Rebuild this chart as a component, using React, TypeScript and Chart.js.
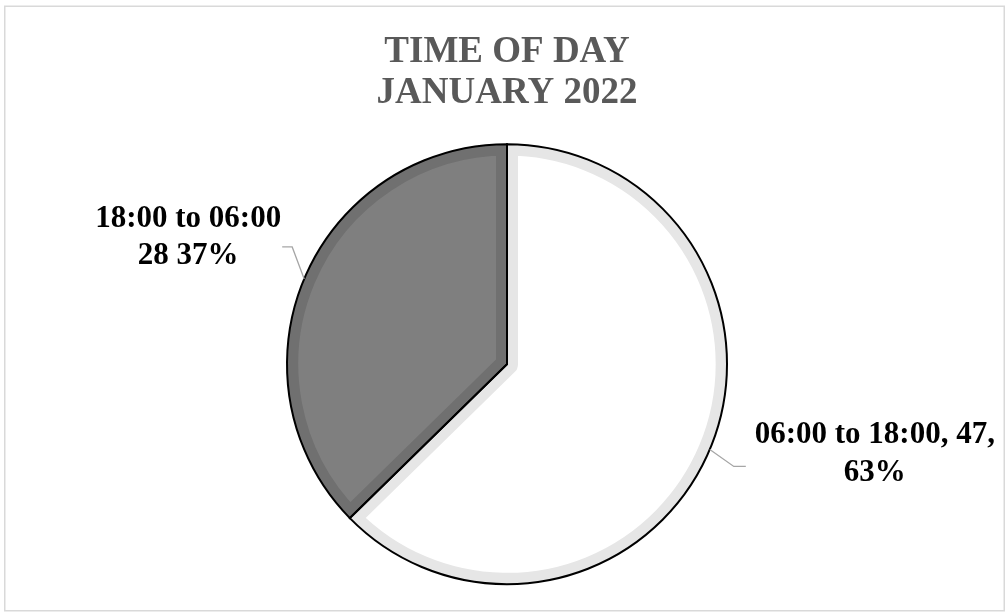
import React, { useEffect, useRef } from "react";
import { Chart, registerables } from "chart.js";

Chart.register(...registerables);

const categories = ["06:00 to 18:00", "18:00 to 06:00"];
const values = [47, 28];
const percents = ["63%", "37%"];
const titleLines = ["TIME OF DAY", "JANUARY 2022"];
const sliceColors = ["#ffffff", "#7f7f7f"];
const bandColors = ["#e6e6e6", "#707070"];

const labelLines = [
  [`${categories[0]}, ${values[0]},`, percents[0]],
  [categories[1], `${values[1]} ${percents[1]}`],
];

// leader/label layout per slice (offsets from slice mid-point on the rim)
const leaderLayout = [
  { knee: [24, 17], end: [12, 0], text: [129, -23], lh: 38 },
  { knee: [-12, -32], end: [-10, 0], text: [-94, -20], lh: 37 },
];

const SERIF = '"Liberation Serif", "Times New Roman", serif';

const decorPlugin = {
  id: "decor",
  beforeDraw(chart: any) {
    const ctx = chart.ctx;
    ctx.save();
    ctx.strokeStyle = "#d9d9d9";
    ctx.lineWidth = 1.5;
    ctx.strokeRect(4.75, 6.25, 999.5, 604.5);
    ctx.restore();
  },
  afterDatasetsDraw(chart: any) {
    const ctx = chart.ctx;
    const meta = chart.getDatasetMeta(0);
    ctx.save();
    // black outlines
    meta.data.forEach((arc: any) => {
      const { x, y, startAngle, endAngle, outerRadius } = arc.getProps(
        ["x", "y", "startAngle", "endAngle", "outerRadius"],
        true
      );
      ctx.beginPath();
      ctx.moveTo(x, y);
      ctx.arc(x, y, outerRadius, startAngle, endAngle);
      ctx.closePath();
      ctx.strokeStyle = "#000000";
      ctx.lineWidth = 2;
      ctx.lineJoin = "miter";
      ctx.stroke();
    });
    // leader lines and labels
    meta.data.forEach((arc: any, i: number) => {
      const { x, y, startAngle, endAngle, outerRadius } = arc.getProps(
        ["x", "y", "startAngle", "endAngle", "outerRadius"],
        true
      );
      const mid = (startAngle + endAngle) / 2;
      const px = x + outerRadius * Math.cos(mid);
      const py = y + outerRadius * Math.sin(mid);
      const L = leaderLayout[i];
      const kx = px + L.knee[0];
      const ky = py + L.knee[1];
      const ex = kx + L.end[0];
      const ey = ky + L.end[1];
      ctx.beginPath();
      ctx.moveTo(px, py);
      ctx.lineTo(kx, ky);
      ctx.lineTo(ex, ey);
      ctx.strokeStyle = "#a6a6a6";
      ctx.lineWidth = 1.3;
      ctx.stroke();
      ctx.fillStyle = "#000000";
      ctx.font = `bold 31px ${SERIF}`;
      ctx.textAlign = "center";
      ctx.textBaseline = "alphabetic";
      const tx = ex + L.text[0];
      const ty = ey + L.text[1];
      labelLines[i].forEach((line, j) => {
        ctx.fillText(line, tx, ty + j * L.lh);
      });
    });
    ctx.restore();
  },
};

export default function App() {
  const ref = useRef<HTMLCanvasElement | null>(null);
  useEffect(() => {
    if (!ref.current) return;
    const chart = new Chart(ref.current, {
      type: "pie",
      data: {
        labels: categories,
        datasets: [
          {
            data: values,
            backgroundColor: sliceColors,
            borderColor: bandColors,
            borderWidth: 11,
            borderAlign: "inner",
          } as any,
        ],
      },
      options: {
        animation: false,
        responsive: false,
        maintainAspectRatio: false,
        events: [],
        radius: 220,
        layout: { padding: { left: 9, right: 0, top: 0, bottom: 15 } },
        plugins: {
          legend: { display: false },
          tooltip: { enabled: false },
          title: {
            display: true,
            text: titleLines,
            color: "#595959",
            font: { family: SERIF, size: 37, weight: "bold", lineHeight: 1.1 },
            padding: { top: 32, bottom: 0 },
          },
        },
      } as any,
      plugins: [decorPlugin],
    });
    return () => chart.destroy();
  }, []);
  return (
    <div
      style={{
        position: "fixed",
        left: 0,
        top: 0,
        width: 1005,
        height: 612,
        overflow: "hidden",
        background: "#ffffff",
      }}
    >
      <canvas ref={ref} width={1005} height={630} style={{ display: "block" }} />
    </div>
  );
}
